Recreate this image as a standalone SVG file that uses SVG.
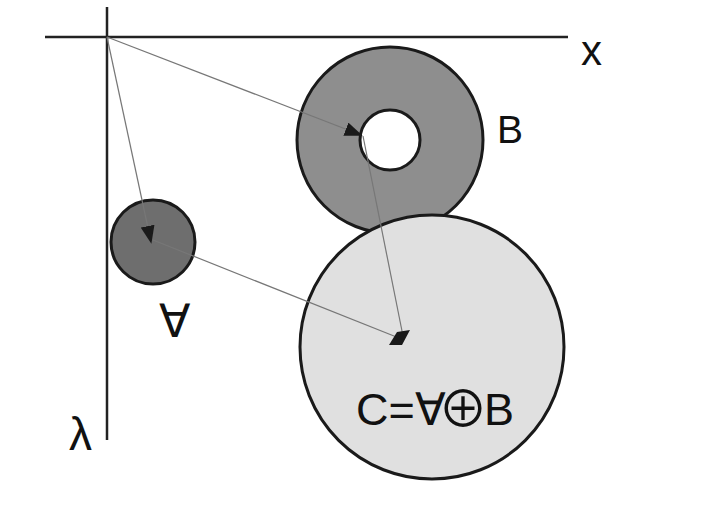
<svg xmlns="http://www.w3.org/2000/svg" width="710" height="522" viewBox="0 0 710 522">
<style>
.axis{stroke:#222;stroke-width:2.5;fill:none}
.c{stroke:#1a1a1a;stroke-width:3}
.conn{stroke:#777;stroke-width:1.2;fill:none}
.t{font-family:"Liberation Sans",Arial,sans-serif;fill:#111}
</style>
<defs>
<marker id="tri" viewBox="0 0 10 10" refX="9" refY="5" markerWidth="18" markerHeight="14" markerUnits="userSpaceOnUse" orient="auto" preserveAspectRatio="none">
<path d="M0,0 L10,5 L0,10 z" fill="#1a1a1a"/>
</marker>
</defs>
<rect width="710" height="522" fill="#fff"/>
<g id="axes">
<line class="axis" x1="45" y1="37" x2="568" y2="37"/>
<line class="axis" x1="107" y1="7" x2="107" y2="440"/>
<text class="t" x="581" y="65" font-size="42">x</text>
<text class="t" x="69" y="450" font-size="46">λ</text>
</g>
<g id="nodeB">
<path class="c" fill="#8e8e8e" fill-rule="evenodd" d="M297,140 a93,93 0 1,0 186,0 a93,93 0 1,0 -186,0 z M360,140 a30,30 0 1,0 60,0 a30,30 0 1,0 -60,0 z"/>
<text class="t" x="497" y="143" font-size="39">B</text>
</g>
<g id="nodeC">
<circle class="c" cx="432" cy="347" r="132" fill="#e0e0e0"/>
<text class="t" x="356" y="425" font-size="45">C=∀<tspan x="438" dy="2" font-size="50" font-family="'Noto Sans CJK JP','DejaVu Sans',sans-serif">⊕</tspan><tspan x="484" dy="-2">B</tspan></text>
</g>
<g id="nodeA">
<circle class="c" cx="153" cy="242" r="42" fill="#6e6e6e"/>
<text class="t" x="174" y="337" font-size="46" text-anchor="middle">∀</text>
</g>
<g id="connectors">
<line class="conn" x1="107" y1="37" x2="361" y2="135" marker-end="url(#tri)"/>
<line class="conn" x1="107" y1="37" x2="151" y2="242" marker-end="url(#tri)"/>
<line class="conn" x1="153" y1="240" x2="399" y2="338"/>
<line class="conn" x1="363" y1="136" x2="403" y2="336"/>
<polygon points="389,345 397,332 410,330 402,345" fill="#1a1a1a"/>
</g>
</svg>
